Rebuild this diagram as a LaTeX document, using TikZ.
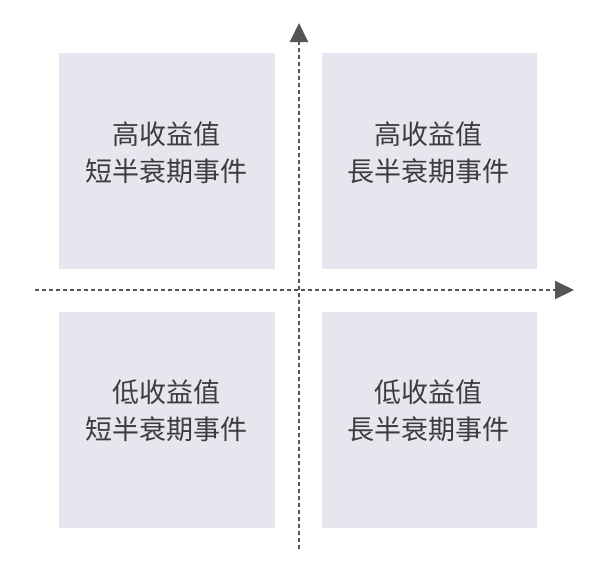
\documentclass[tikz,border=0pt]{standalone}
\usepackage{fontspec}
\newfontfamily\cjk{Noto Sans CJK TC}
\usetikzlibrary{arrows.meta}
\definecolor{boxfill}{RGB}{230,231,238}
\definecolor{txt}{RGB}{60,60,60}
\definecolor{axis}{RGB}{85,85,85}
\tikzset{
  quad/.style={fill=boxfill, draw=none},
  lbl/.style={text=txt, font=\cjk\fontsize{27}{36}\selectfont, align=center, inner sep=0pt},
  axisline/.style={draw=axis, line width=2pt, dash pattern=on 4pt off 3pt, -{Triangle[length=19pt,width=18pt]}}
}
\begin{document}
\begin{tikzpicture}[x=1pt,y=-1pt]
\useasboundingbox (0,0) rectangle (600,566);
\fill[white] (0,0) rectangle (600,566);
\path[quad] (59,53) rectangle (275,269);
\path[quad] (322,53) rectangle (537,269);
\path[quad] (59,312) rectangle (275,528);
\path[quad] (322,312) rectangle (537,528);
\node[lbl] (tl1) at (166,134) {高收益值};
\node[lbl] (tl2) at (166,171) {短半衰期事件};
\node[lbl] (tr1) at (428,134) {高收益值};
\node[lbl] (tr2) at (428,171) {長半衰期事件};
\node[lbl] (bl1) at (166,392) {低收益值};
\node[lbl] (bl2) at (166,429) {短半衰期事件};
\node[lbl] (br1) at (428,392) {低收益值};
\node[lbl] (br2) at (428,429) {長半衰期事件};
\coordinate (vb) at (299,549);
\coordinate (vt) at (299,23);
\coordinate (hl) at (35,290);
\coordinate (hr) at (574,290);
\draw[axisline] (vb) -- (vt);
\draw[axisline] (hl) -- (hr);
\end{tikzpicture}
\end{document}
